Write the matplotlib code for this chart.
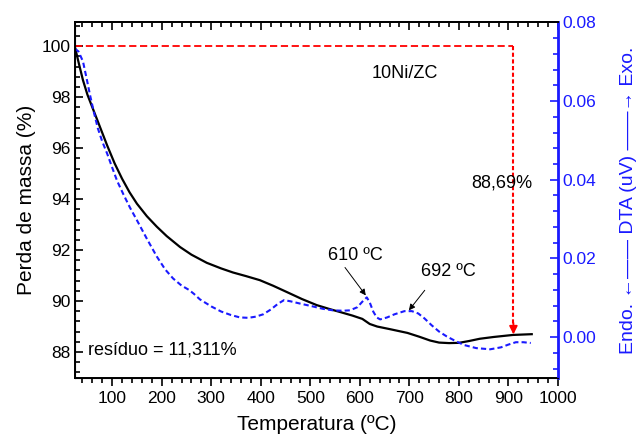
import matplotlib
matplotlib.use("Agg")
import matplotlib.pyplot as plt
from matplotlib.ticker import MultipleLocator

plt.rcParams["font.family"] = ["Liberation Sans", "DejaVu Sans"]

# TG: perda de massa (%)
temp_tg = [25, 33, 41, 50, 61, 75, 90, 105, 120, 135, 150, 170, 190, 210, 237,
           260, 291, 320, 344, 370, 398, 425, 453, 483, 513, 540, 560, 585, 605,
           620, 635, 660, 696, 720, 742, 760, 780, 800, 820, 842, 870, 909, 947]
massa = [99.95, 99.3, 98.67, 98.1, 97.55, 96.85, 96.1, 95.4, 94.8, 94.27, 93.82,
         93.33, 92.92, 92.55, 92.12, 91.82, 91.5, 91.28, 91.12, 90.98, 90.82,
         90.6, 90.35, 90.08, 89.84, 89.68, 89.57, 89.43, 89.3, 89.1, 89.0, 88.9,
         88.75, 88.6, 88.45, 88.37, 88.35, 88.36, 88.43, 88.52, 88.59, 88.67,
         88.7]

# DTA (uV)
temp_dta = [25, 32, 41, 48, 55, 63, 71, 80, 90, 100, 110, 123, 136, 150, 170,
            190, 207, 223, 240, 255, 265, 277, 300, 320, 340, 358, 375, 390, 405,
            420, 435, 447, 460, 480, 505, 525, 546, 565, 580, 595, 605, 614, 620,
            627, 634, 641, 655, 670, 690, 705, 718, 730, 745, 760, 775, 790, 810,
            835, 863, 885, 900, 915, 930, 945]
dta = [0.0733, 0.0726, 0.0701, 0.0660, 0.0617, 0.0572, 0.0531, 0.0497, 0.0466,
       0.0431, 0.0397, 0.0362, 0.0329, 0.0297, 0.0250, 0.0205, 0.0172, 0.0149,
       0.0131, 0.0120, 0.0110, 0.0096, 0.0078, 0.0065, 0.0056, 0.0050, 0.0049,
       0.0052, 0.0058, 0.0070, 0.0085, 0.0094, 0.0091, 0.0085, 0.0078, 0.0072,
       0.0068, 0.0067, 0.0068, 0.0076, 0.0090, 0.0101, 0.0088, 0.0065, 0.0050,
       0.0045, 0.0050, 0.0058, 0.0066, 0.0066, 0.0060, 0.0048, 0.0030, 0.0014,
       0.0002, -0.0008, -0.0020, -0.0028, -0.0031, -0.0026, -0.0019, -0.0013,
       -0.0013, -0.0015]

massa_inicial = 100
temp_final = 910
massa_final = 88.69

fig = plt.figure(figsize=(6.38, 4.43), dpi=100)
ax = fig.add_axes([0.1176, 0.1467, 0.757, 0.8036])
ax2 = ax.twinx()

ax.plot(temp_tg, massa, color="black", lw=1.6)
ax2.plot(temp_dta, dta, color="#1a1aff", lw=1.5, ls=(0, (2.5, 1.5)))

# linhas de referência da perda de massa
ax.plot([25, temp_final], [massa_inicial, massa_inicial], color="red", lw=1.3,
        ls=(0, (4, 2)))
ax.plot([temp_final, temp_final], [massa_inicial, massa_final + 0.3], color="red",
        lw=1.5, ls=(0, (2, 1.2)))
ax.annotate("", xy=(temp_final, massa_final), xytext=(temp_final, massa_final + 0.45),
            arrowprops=dict(arrowstyle="-|>", color="red", lw=1.3,
                            mutation_scale=12, shrinkA=0, shrinkB=0))

ax.set_xlim(25, 1000)
ax.set_ylim(86.98, 100.95)
ax2.set_ylim(-0.0104, 0.0801)

ax.xaxis.set_major_locator(MultipleLocator(100))
ax.xaxis.set_minor_locator(MultipleLocator(20))
ax.yaxis.set_major_locator(MultipleLocator(2))
ax.yaxis.set_minor_locator(MultipleLocator(0.4))
ax2.yaxis.set_major_locator(MultipleLocator(0.02))
ax2.yaxis.set_minor_locator(MultipleLocator(0.004))
ax2.set_yticks([0.00, 0.02, 0.04, 0.06, 0.08])
ax2.set_yticklabels(["0.00", "0.02", "0.04", "0.06", "0.08"])

ax.tick_params(axis="x", which="both", direction="out", labelsize=12.5, width=1.2)
ax.tick_params(axis="x", which="major", length=6)
ax.tick_params(axis="x", which="minor", length=3.5)
ax.tick_params(axis="y", which="both", direction="in", labelsize=12.5, width=1.2)
ax.tick_params(axis="y", which="major", length=6)
ax.tick_params(axis="y", which="minor", length=3.5)
ax2.tick_params(axis="y", which="both", direction="in", colors="#1a1aff",
                labelsize=12.5, width=1.2)
ax2.tick_params(axis="y", which="major", length=6)
ax2.tick_params(axis="y", which="minor", length=3.5)

# ticks do topo apontam para dentro
sec = ax.secondary_xaxis("top")
sec.xaxis.set_major_locator(MultipleLocator(100))
sec.xaxis.set_minor_locator(MultipleLocator(20))
sec.tick_params(which="both", direction="in", labeltop=False, width=1.2)
sec.tick_params(which="major", length=6)
sec.tick_params(which="minor", length=3.5)

for s in ["left", "bottom", "top"]:
    ax.spines[s].set_linewidth(1.4)
ax2.spines["right"].set_color("#1a1aff")
ax2.spines["right"].set_linewidth(2)
ax2.spines["top"].set_linewidth(1.4)
sec.spines["top"].set_linewidth(1.4)

ax.set_xlabel("Temperatura (ºC)", fontsize=15, labelpad=6)
ax.set_ylabel("Perda de massa (%)", fontsize=15, labelpad=4)
ax2.set_ylabel("Endo. \u2190\u2014\u2014 DTA (uV) \u2014\u2014\u2192 Exo.",
               fontsize=14, color="#1a1aff", labelpad=17)

ax.text(691, 98.94, "10Ni/ZC", fontsize=13, ha="center", va="center")
ax.text(887, 94.63, "88,69%", fontsize=13, ha="center", va="center")
ax.text(51, 88.08, "resíduo = 11,311%", fontsize=13, ha="left", va="center")

# picos do DTA
ax2.text(590, 0.0207, "610 ºC", fontsize=13, ha="center", va="center")
ax2.annotate("", xy=(612, 0.0106), xytext=(570, 0.0177),
             arrowprops=dict(arrowstyle="-|>", color="black", lw=0.7,
                             mutation_scale=9, shrinkA=0, shrinkB=0))
ax2.text(778, 0.0167, "692 ºC", fontsize=13, ha="center", va="center")
ax2.annotate("", xy=(699, 0.0068), xytext=(731, 0.0119),
             arrowprops=dict(arrowstyle="-|>", color="black", lw=0.7,
                             mutation_scale=9, shrinkA=0, shrinkB=0))

fig.savefig("out.png", dpi=100)
